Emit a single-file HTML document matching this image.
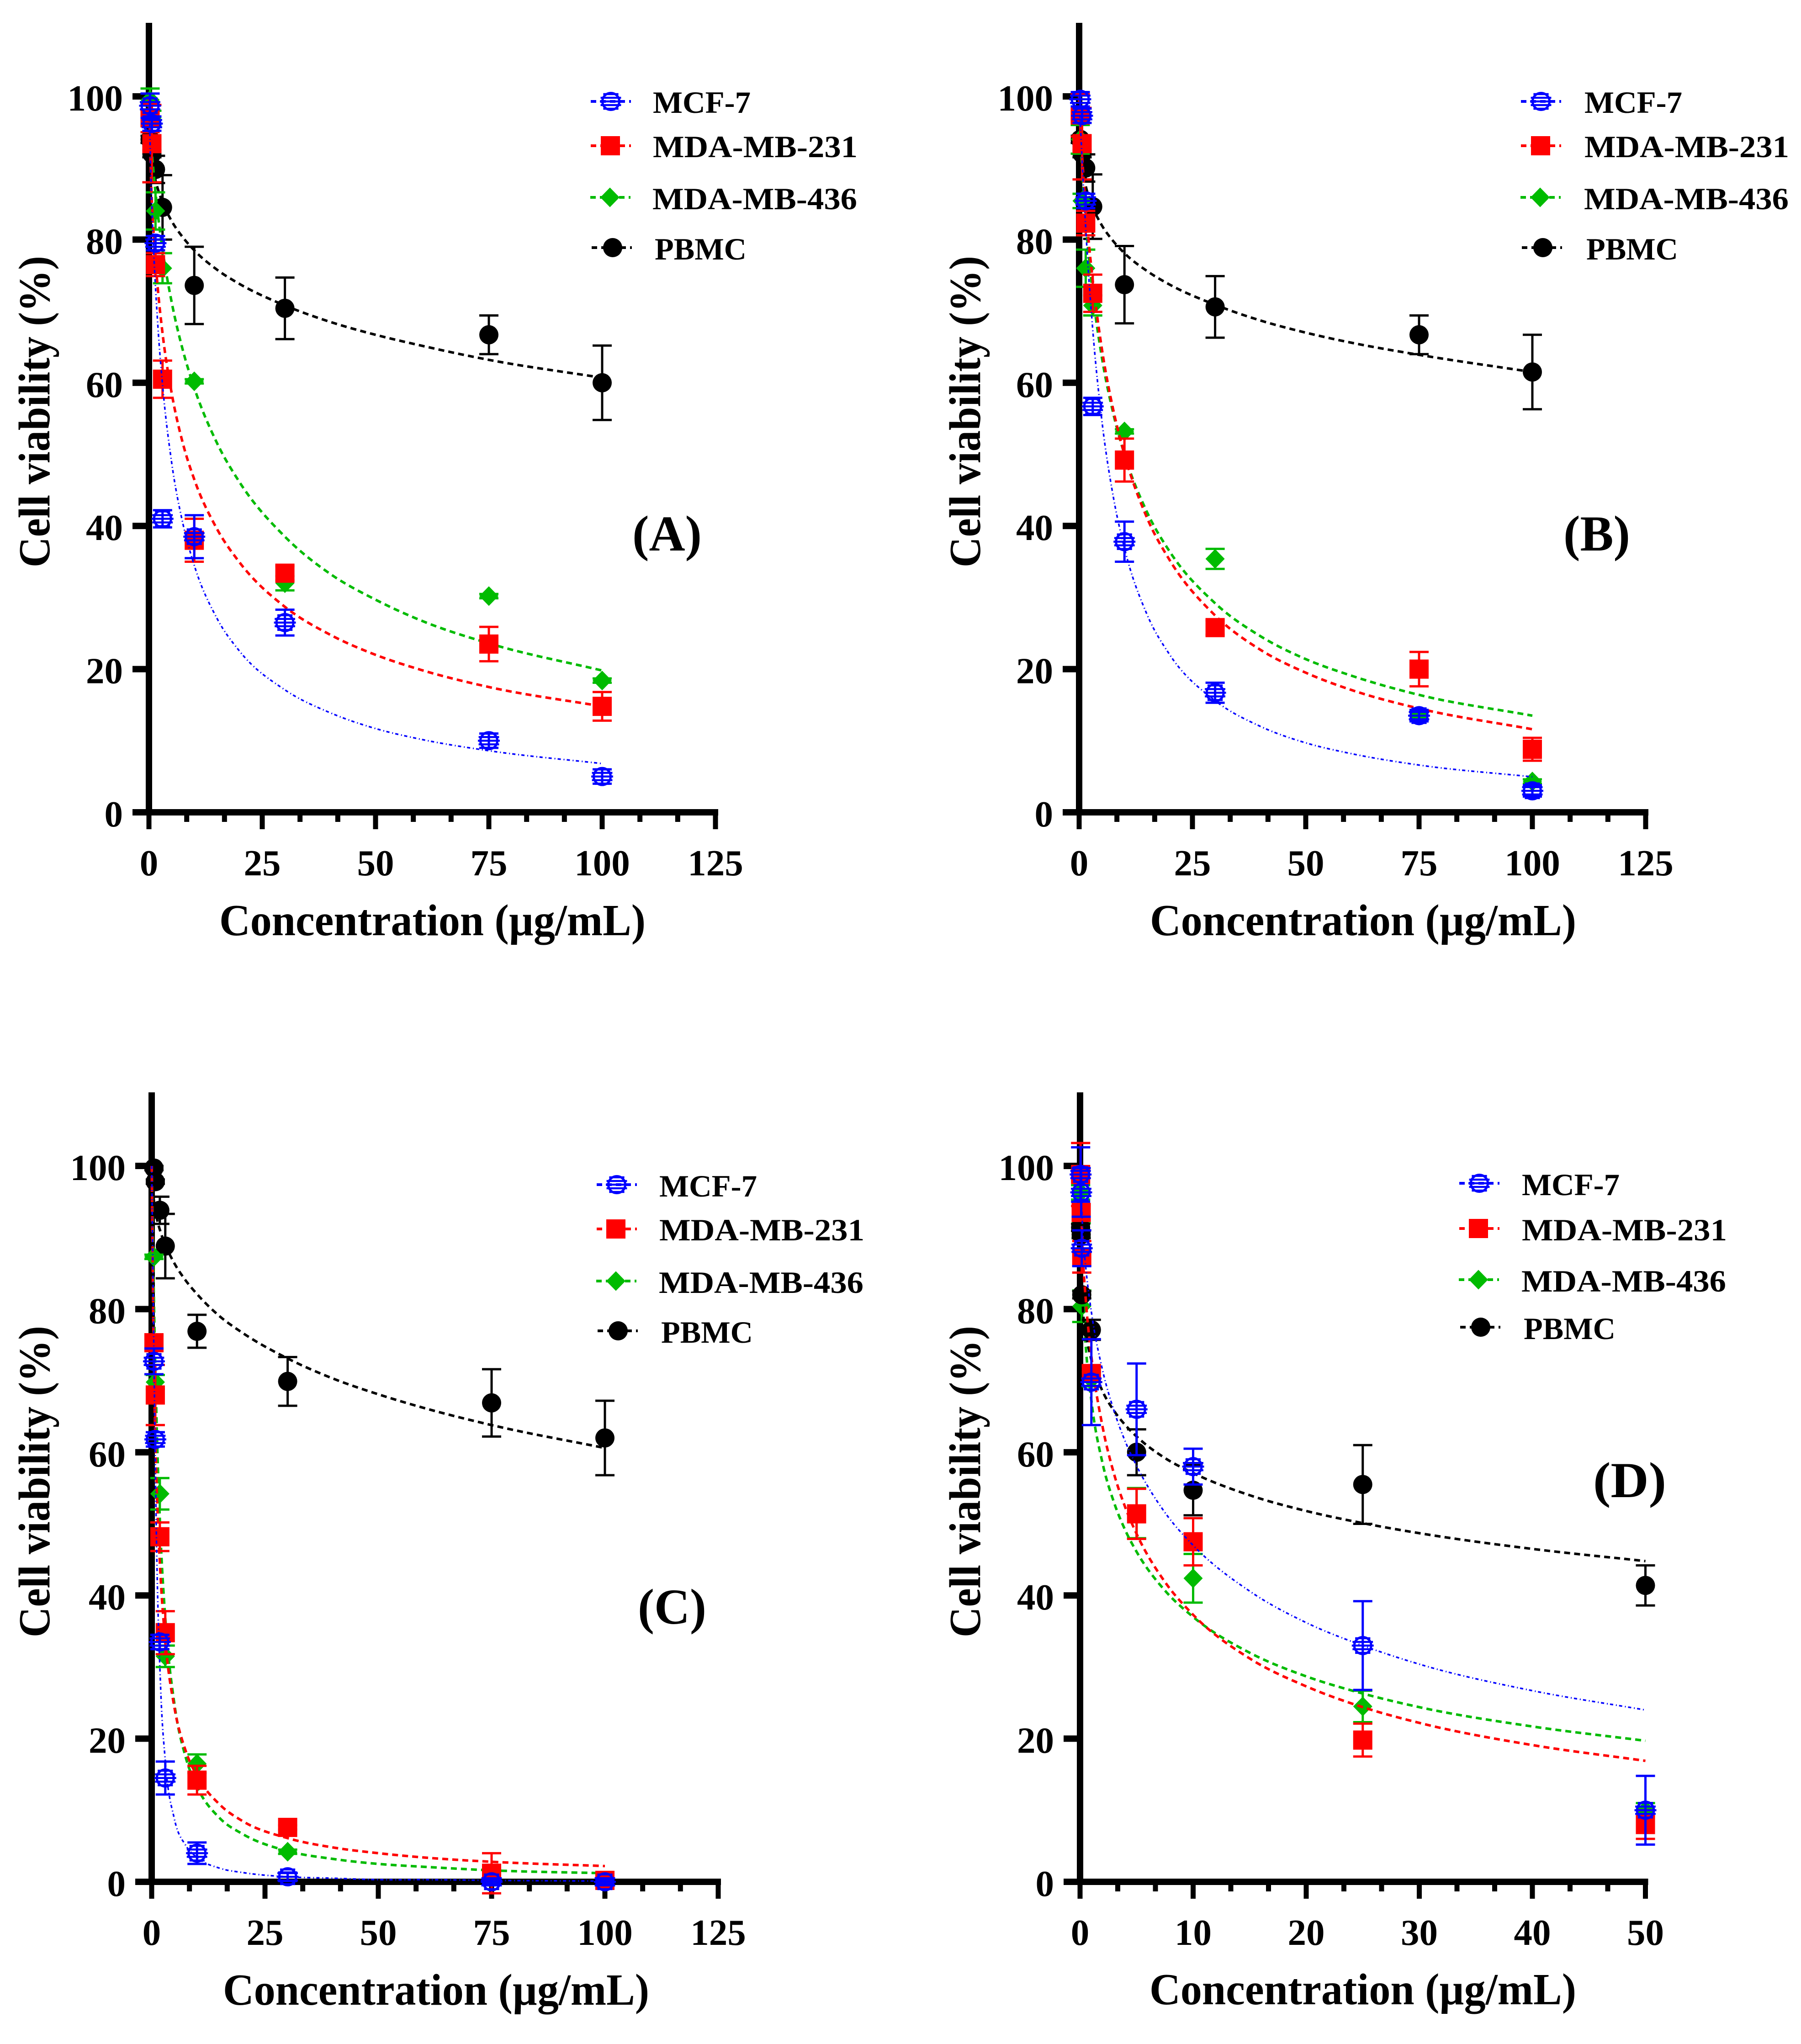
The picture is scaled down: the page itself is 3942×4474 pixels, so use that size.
<!DOCTYPE html>
<html lang="en">
<head>
<meta charset="utf-8">
<title>Cell viability vs concentration</title>
<style>
html,body{margin:0;padding:0;background:#fff}
svg{display:block}
text{font-family:"Liberation Serif",serif;font-weight:bold;fill:#000}
.ax{font-size:97px}
.tk{font-size:81px}
.lg{font-size:68px}
.pl{font-size:110px}
</style>
</head>
<body>
<svg id="chart" xmlns="http://www.w3.org/2000/svg" width="3942" height="4474" viewBox="0 0 3942 4474">
<rect width="3942" height="4474" fill="#fff"/>

<g id="panel-a"></g>
<g id="panel-b"></g>
<g id="panel-c"></g>
<g id="panel-d"></g>

<g>
<text class="ax" text-anchor="middle" transform="translate(108,901) rotate(-90)" textLength="682" lengthAdjust="spacingAndGlyphs">Cell viability (%)</text>
<text class="ax" x="480" y="2047" textLength="933" lengthAdjust="spacingAndGlyphs">Concentration (µg/mL)</text>
<text class="pl" x="1460" y="1205" text-anchor="middle" textLength="152" lengthAdjust="spacingAndGlyphs">(A)</text>
<text class="lg" x="1429" y="247" textLength="214" lengthAdjust="spacingAndGlyphs">MCF-7</text>
<text class="lg" x="1429" y="344" textLength="448" lengthAdjust="spacingAndGlyphs">MDA-MB-231</text>
<text class="lg" x="1428" y="458" textLength="448" lengthAdjust="spacingAndGlyphs">MDA-MB-436</text>
<text class="lg" x="1433" y="568" textLength="201" lengthAdjust="spacingAndGlyphs">PBMC</text>
</g>

<g>
<text class="ax" text-anchor="middle" transform="translate(2145,901) rotate(-90)" textLength="682" lengthAdjust="spacingAndGlyphs">Cell viability (%)</text>
<text class="ax" x="2517" y="2047" textLength="933" lengthAdjust="spacingAndGlyphs">Concentration (µg/mL)</text>
<text class="pl" x="3495" y="1205" text-anchor="middle" textLength="146" lengthAdjust="spacingAndGlyphs">(B)</text>
<text class="lg" x="3468" y="247" textLength="214" lengthAdjust="spacingAndGlyphs">MCF-7</text>
<text class="lg" x="3468" y="344" textLength="448" lengthAdjust="spacingAndGlyphs">MDA-MB-231</text>
<text class="lg" x="3467" y="458" textLength="448" lengthAdjust="spacingAndGlyphs">MDA-MB-436</text>
<text class="lg" x="3472" y="568" textLength="201" lengthAdjust="spacingAndGlyphs">PBMC</text>
</g>

<g>
<text class="ax" text-anchor="middle" transform="translate(108,3243) rotate(-90)" textLength="682" lengthAdjust="spacingAndGlyphs">Cell viability (%)</text>
<text class="ax" x="488" y="4388" textLength="933" lengthAdjust="spacingAndGlyphs">Concentration (µg/mL)</text>
<text class="pl" x="1471" y="3554" text-anchor="middle" textLength="150" lengthAdjust="spacingAndGlyphs">(C)</text>
<text class="lg" x="1443" y="2619" textLength="214" lengthAdjust="spacingAndGlyphs">MCF-7</text>
<text class="lg" x="1443" y="2715" textLength="449" lengthAdjust="spacingAndGlyphs">MDA-MB-231</text>
<text class="lg" x="1442" y="2830" textLength="448" lengthAdjust="spacingAndGlyphs">MDA-MB-436</text>
<text class="lg" x="1447" y="2939" textLength="201" lengthAdjust="spacingAndGlyphs">PBMC</text>
</g>

<g>
<text class="ax" text-anchor="middle" transform="translate(2145,3243) rotate(-90)" textLength="682" lengthAdjust="spacingAndGlyphs">Cell viability (%)</text>
<text class="ax" x="2516" y="4387" textLength="934" lengthAdjust="spacingAndGlyphs">Concentration (µg/mL)</text>
<text class="pl" x="3567" y="3277" text-anchor="middle" textLength="160" lengthAdjust="spacingAndGlyphs">(D)</text>
<text class="lg" x="3331" y="2616" textLength="214" lengthAdjust="spacingAndGlyphs">MCF-7</text>
<text class="lg" x="3331" y="2715" textLength="449" lengthAdjust="spacingAndGlyphs">MDA-MB-231</text>
<text class="lg" x="3330" y="2827" textLength="448" lengthAdjust="spacingAndGlyphs">MDA-MB-436</text>
<text class="lg" x="3335" y="2931" textLength="201" lengthAdjust="spacingAndGlyphs">PBMC</text>
</g>
</svg>

<script>
// ---------- tick labels ----------
const yTicks = [0, 20, 40, 60, 80, 100];
const xTicksMain = [0, 25, 50, 75, 100, 125];
const xTicksD = [0, 10, 20, 30, 40, 50];

// ---------- measured concentrations ----------
const concMain = [0.25, 0.65, 1.45, 3, 10, 30, 75, 100];
const concC = [0.5, 0.8, 1.8, 3, 10, 30, 75, 100];
const concD = [0.05, 0.1, 0.15, 1, 5, 10, 25, 50];
const curveConcMain = [0, 0.5, 1, 2, 3, 5, 7.5, 10, 15, 20, 30, 40, 50, 60, 75, 100];
const curveConcD = [0, 0.25, 0.5, 1, 2, 3, 4, 5, 7.5, 10, 15, 20, 25, 30, 40, 50];

// ---------- panel A ----------
const mcfA = [98.7, 96.2, 79.5, 41, 38.5, 26.5, 10, 5];
const mcfErrA = [1.7, 1, 1, 1.2, 3, 1.8, 1, 1];
const mda231A = [97, 93.4, 76.5, 60.5, 38, 33.4, 23.5, 14.8];
const mda231ErrA = [2, 5.4, 1.6, 2.6, 3, 1, 2.4, 2];
const mda436A = [99.5, 97, 84, 76, 60.2, 32, 30.2, 18.4];
const mda436ErrA = [1.6, 1, 2.6, 2.1, 0.3, 1, 0.3, 0.3];
const pbmcA = [94, 92, 89.8, 84.5, 73.6, 70.4, 66.7, 60];
const pbmcErrA = [0.5, 0.5, 1.9, 4.5, 5.4, 4.3, 2.7, 5.2];
const mcfFitA = [100, 87.3, 79.1, 67.7, 59.7, 48.9, 40.3, 34.5, 27.1, 22.5, 17.1, 13.9, 11.7, 10.2, 8.6, 6.8];
const mda231FitA = [100, 87.6, 81.3, 72.9, 66.9, 58.6, 51.5, 46.5, 39.6, 34.9, 28.7, 24.8, 22, 19.9, 17.5, 14.8];
const mda436FitA = [100, 93.6, 89.6, 83.4, 78.6, 71.3, 64.5, 59.3, 51.6, 46.1, 38.5, 33.3, 29.7, 26.8, 23.6, 19.8];
const pbmcFitA = [100, 91.8, 89.6, 87, 85.2, 82.6, 80.3, 78.5, 75.8, 73.8, 70.8, 68.5, 66.7, 65.2, 63.2, 60.7];

// ---------- panel B ----------
const mcfB = [99.6, 97.3, 85.4, 56.7, 37.8, 16.7, 13.5, 3];
const mcfErrB = [1, 1, 1, 1.2, 2.8, 1.4, 0.8, 0.8];
const mda231B = [97.4, 93.4, 82.3, 72.5, 49.2, 25.8, 20, 8.8];
const mda231ErrB = [3, 5, 1.7, 2.6, 3, 1, 2.4, 1.6];
const mda436B = [94, 85.4, 76, 70.8, 53.2, 35.4, 13.5, 4.3];
const mda436ErrB = [2, 1, 2.6, 1.4, 0.3, 1.4, 0.5, 0.3];
const pbmcB = [94, 92, 90, 84.6, 73.7, 70.6, 66.7, 61.5];
const pbmcErrB = [0.5, 0.5, 1.9, 4.5, 5.4, 4.3, 2.7, 5.2];
const mcfFitB = [100, 93.1, 86.8, 76, 67.4, 54.8, 44.2, 36.9, 27.6, 22, 15.6, 12, 9.7, 8.2, 6.6, 4.95];
const mda231FitB = [100, 93.4, 88.4, 80.5, 74.3, 64.8, 56.3, 50, 41.1, 35.2, 27.5, 22.7, 19.5, 17.1, 14.5, 11.6];
const mda436FitB = [100, 91.8, 86.5, 78.6, 72.5, 63.6, 55.8, 50, 41.9, 36.4, 29.2, 24.6, 21.4, 19.1, 16.4, 13.5];
const pbmcFitB = [100, 91, 88.9, 86.2, 84.5, 82, 79.8, 78.1, 75.6, 73.7, 70.9, 68.7, 67, 65.6, 63.9, 61.5];

// ---------- panel C ----------
const mcfC = [72.7, 61.8, 33.5, 14.5, 4, 0.7, 0, 0];
const mcfErrC = [1.8, 1, 1, 2.3, 1.5, 0.6, 0.3, 0.3];
const mda231C = [75.3, 68, 48.2, 34.8, 14.2, 7.6, 1.2, 0.2];
const mda231ErrC = [1, 4.2, 2, 3, 2, 0.3, 2.8, 0.3];
const mda436C = [87.3, 69.8, 54.2, 31.5, 16.5, 4.2, 0.5, 0];
const mda436ErrC = [0.3, 1, 2.2, 1.5, 1.3, 0.3, 0.3, 0.3];
const pbmcC = [99.7, 97.8, 93.8, 88.8, 76.9, 69.9, 66.9, 62];
const pbmcErrC = [0.3, 0.3, 1.9, 4.5, 2.3, 3.4, 4.7, 5.2];
const mcfFitC = [100, 73.2, 50, 26.8, 16.9, 8.8, 5.1, 3.4, 1.9, 1.3, 0.7, 0.5, 0.3, 0.3, 0.2, 0.1];
const mda231FitC = [100, 71.6, 57.6, 42.3, 33.7, 24.4, 18.3, 14.8, 10.8, 8.5, 6.1, 4.8, 4, 3.4, 2.8, 2.2];
const mda436FitC = [100, 80.9, 66.3, 47.7, 36.8, 24.9, 17.4, 13.3, 8.9, 6.7, 4.3, 3.2, 2.5, 2.1, 1.6, 1.2];
const pbmcFitC = [100, 95, 93.1, 90.7, 89, 86.4, 84, 82.1, 79, 76.7, 73.1, 70.3, 68.1, 66.2, 63.8, 60.6];

// ---------- panel D ----------
const mcfD = [98.8, 96.3, 88.5, 69.8, 66, 58, 33, 10];
const mcfErrD = [3.8, 3.4, 2.5, 6, 6.4, 2.5, 6.2, 4.8];
const mda231D = [98.8, 93.5, 87.3, 71, 51.4, 47.5, 19.8, 8];
const mda231ErrD = [4.4, 1, 2.2, 1, 3.5, 3.3, 2.3, 2];
const mda436D = [96.3, 91, 80.4, 70.2, 51.5, 42.4, 24.5, 10];
const mda436ErrD = [1, 1, 2.2, 1, 3.5, 3.4, 2.2, 1];
const pbmcD = [91.4, 90.4, 82, 77.1, 60, 54.7, 55.5, 41.4];
const pbmcErrD = [0.5, 0.5, 0.5, 1.4, 3.2, 3.5, 5.5, 2.8];
const mcfFitD = [100, 90.5, 85.9, 79.6, 71.4, 65.8, 61.5, 58.1, 51.6, 47, 40.6, 36.2, 33, 30.4, 26.7, 24];
const mda231FitD = [100, 87.4, 81.4, 73.4, 63.5, 57, 52.3, 48.6, 41.9, 37.3, 31.2, 27.3, 24.4, 22.2, 19.1, 16.9];
const mda436FitD = [100, 81.3, 74.9, 67.2, 58.4, 53, 49.1, 46.1, 40.7, 37, 32, 28.7, 26.3, 24.4, 21.7, 19.7];
const pbmcFitD = [100, 80.5, 76.9, 72.9, 68.5, 65.8, 63.8, 62.2, 59.2, 57.1, 54, 51.8, 50.1, 48.7, 46.5, 44.8];

const NS = 'http://www.w3.org/2000/svg';
const colors = { mcf: '#0000ff', mda231: '#ff0000', mda436: '#00bb00', pbmc: '#000000' };
const dashes = { mcf: '7 6 2 5', mda231: '13 9', mda436: '13 9', pbmc: '13 9' };
const widths = { mcf: 3.5, mda231: 5.5, mda436: 5.5, pbmc: 5.5 };
const drawOrder = ['pbmc', 'mda436', 'mda231', 'mcf'];
const drawOrderD = ['mda436', 'pbmc', 'mda231', 'mcf'];

function make(tag, parent) {
  const e = document.createElementNS(NS, tag);
  parent.appendChild(e);
  return e;
}
function set(e, attrs) {
  for (const k in attrs) e.setAttribute(k, attrs[k]);
  return e;
}
function rectMark(parent, x, y, w, h, fill) {
  const r = make('rect', parent);
  set(r, { x: x, y: y, width: w, height: h, fill: fill });
  return r;
}
function drawMarker(parent, series, px, py) {
  const g = make('g', parent);
  
  
  const c = colors[series];
  if (series === 'mda231') {
    rectMark(g, px - 21, py - 21, 42, 42, c);
  } else if (series === 'mda436') {
    const p = make('polygon', g);
    set(p, { points: [px, py - 21.5, px + 21, py, px, py + 21.5, px - 21, py].join(' '), fill: c });
  } else if (series === 'pbmc') {
    const o = make('circle', g);
    set(o, { cx: px, cy: py, r: 21, fill: c });
  } else {
    const o = make('circle', g);
    set(o, { cx: px, cy: py, r: 18.5, fill: 'none', stroke: c, 'stroke-width': 5 });
    for (let dy = -16; dy <= 16; dy += 8) {
      const half = Math.sqrt(441 - dy * dy) + 3;
      rectMark(g, px - half, py + dy - 2.2, 2 * half, 4.4, c);
    }
  }
  return g;
}
function smoothPath(pts) {
  const n = pts.length;
  const m = [];
  for (let i = 0; i < n; i++) {
    if (i === 0) {
      m.push((pts[1][1] - pts[0][1]) / (pts[1][0] - pts[0][0]));
    } else if (i === n - 1) {
      m.push((pts[i][1] - pts[i - 1][1]) / (pts[i][0] - pts[i - 1][0]));
    } else {
      const h0 = pts[i][0] - pts[i - 1][0], h1 = pts[i + 1][0] - pts[i][0];
      const s0 = (pts[i][1] - pts[i - 1][1]) / h0, s1 = (pts[i + 1][1] - pts[i][1]) / h1;
      m.push((s0 * h1 + s1 * h0) / (h0 + h1));
    }
  }
  let d = 'M' + pts[0][0].toFixed(1) + ' ' + pts[0][1].toFixed(1);
  for (let i = 0; i < n - 1; i++) {
    const h = (pts[i + 1][0] - pts[i][0]) / 3;
    d += 'C' + (pts[i][0] + h).toFixed(1) + ' ' + (pts[i][1] + m[i] * h).toFixed(1) + ' ' +
      (pts[i + 1][0] - h).toFixed(1) + ' ' + (pts[i + 1][1] - m[i + 1] * h).toFixed(1) + ' ' +
      pts[i + 1][0].toFixed(1) + ' ' + pts[i + 1][1].toFixed(1);
  }
  return d;
}
function tickLabel(parent, str, x, y, anchor) {
  const t = make('text', parent);
  t.setAttribute('class', 'tk');
  
  
  set(t, { x: x, y: y, 'text-anchor': anchor });
  t.textContent = str;
}
function drawLegendEntry(parent, series, lineX, mx, my) {
  const g = make('g', parent);
  
  
  const l = make('line', g);
  
  
  set(l, { x1: lineX - 44, x2: lineX + 44, y1: my, y2: my, stroke: colors[series], 'stroke-width': 6, 'stroke-dasharray': '12 9' });
  drawMarker(g, series, mx, my);
}
function drawPanel(id, o) {
  const root = document.getElementById(id);
  const sx = v => o.x0 + v * o.xScale;
  const sy = v => o.y0 - v * 15.67;
  const axisG = make('g', root);
  
  

  // y axis
  const yLine = rectMark(axisG, o.x0 - 7, o.y0 - 1728, 14, 1728, '#000');
  
  
  yTicks.forEach(v => {
    if (v > 0) {
      const m = rectMark(axisG, o.x0 - 36, sy(v) - 7, 36, 14, '#000');
      
      
    }
    tickLabel(axisG, String(v), o.x0 - 57, sy(v) + 31, 'end');
  });

  // x axis
  const last = o.xTicks[o.xTicks.length - 1];
  const xLine = rectMark(axisG, o.x0 - 36, o.y0 - 7, sx(last) + 6 - (o.x0 - 36), 14, '#000');
  
  
  o.xTicks.forEach((v, i) => {
    const m = rectMark(axisG, sx(v) - 5.5, o.y0, 11, 37, '#000');
    
    
    tickLabel(axisG, String(v), sx(v), o.y0 + 138, 'middle');
    if (i < o.xTicks.length - 1) {
      const step = (o.xTicks[i + 1] - v) / 3;
      for (let k = 1; k < 3; k++) {
        const n = rectMark(axisG, sx(v + k * step) - 5.5, o.y0, 11, 21, '#000');
        
        
      }
    }
  });

  // series
  o.order.forEach(s => {
    const g = make('g', root);
    
    
    const d = o.data[s];
    const curve = make('path', g);
    
    
    set(curve, {
      d: smoothPath(o.curveX.map((x, i) => [sx(x), sy(d.fit[i])])),
      fill: 'none', stroke: colors[s], 'stroke-width': widths[s], 'stroke-dasharray': dashes[s]
    });
    o.conc.forEach((x, i) => {
      const px = sx(x), py = sy(d.y[i]), up = sy(d.y[i] + d.err[i]), dn = sy(d.y[i] - d.err[i]);
      const bar = make('path', g);
      
      
      set(bar, {
        d: 'M' + px + ' ' + up + 'V' + dn + 'M' + (px - 21) + ' ' + up + 'H' + (px + 21) + 'M' + (px - 21) + ' ' + dn + 'H' + (px + 21),
        fill: 'none', stroke: colors[s], 'stroke-width': 5
      });
      drawMarker(g, s, px, py);
    });
  });

  // legend
  const lg = make('g', root);
  
  
  o.legend(lg);
}

drawPanel('panel-a', {
  x0: 326, y0: 1778, xScale: 9.92, xTicks: xTicksMain, conc: concMain, curveX: curveConcMain, order: drawOrder,
  data: {
    mcf: { y: mcfA, err: mcfErrA, fit: mcfFitA },
    mda231: { y: mda231A, err: mda231ErrA, fit: mda231FitA },
    mda436: { y: mda436A, err: mda436ErrA, fit: mda436FitA },
    pbmc: { y: pbmcA, err: pbmcErrA, fit: pbmcFitA }
  },
  legend: g => {
    drawLegendEntry(g, 'mcf', 1337, 1337, 222);
    drawLegendEntry(g, 'mda231', 1337, 1336, 319);
    drawLegendEntry(g, 'mda436', 1336, 1335, 432);
    drawLegendEntry(g, 'pbmc', 1339, 1341, 542);
  }
});
drawPanel('panel-b', {
  x0: 2362, y0: 1778, xScale: 9.92, xTicks: xTicksMain, conc: concMain, curveX: curveConcMain, order: drawOrder,
  data: {
    mcf: { y: mcfB, err: mcfErrB, fit: mcfFitB },
    mda231: { y: mda231B, err: mda231ErrB, fit: mda231FitB },
    mda436: { y: mda436B, err: mda436ErrB, fit: mda436FitB },
    pbmc: { y: pbmcB, err: pbmcErrB, fit: pbmcFitB }
  },
  legend: g => {
    drawLegendEntry(g, 'mcf', 3373, 3373, 222);
    drawLegendEntry(g, 'mda231', 3373, 3372, 319);
    drawLegendEntry(g, 'mda436', 3372, 3371, 432);
    drawLegendEntry(g, 'pbmc', 3375, 3377, 542);
  }
});
drawPanel('panel-c', {
  x0: 332, y0: 4119, xScale: 9.92, xTicks: xTicksMain, conc: concC, curveX: curveConcMain, order: drawOrder,
  data: {
    mcf: { y: mcfC, err: mcfErrC, fit: mcfFitC },
    mda231: { y: mda231C, err: mda231ErrC, fit: mda231FitC },
    mda436: { y: mda436C, err: mda436ErrC, fit: mda436FitC },
    pbmc: { y: pbmcC, err: pbmcErrC, fit: pbmcFitC }
  },
  legend: g => {
    drawLegendEntry(g, 'mcf', 1350, 1350, 2593);
    drawLegendEntry(g, 'mda231', 1350, 1348, 2690);
    drawLegendEntry(g, 'mda436', 1349, 1348, 2804);
    drawLegendEntry(g, 'pbmc', 1352, 1353, 2913);
  }
});
drawPanel('panel-d', {
  x0: 2364, y0: 4119, xScale: 24.75, xTicks: xTicksD, conc: concD, curveX: curveConcD, order: drawOrderD,
  data: {
    mcf: { y: mcfD, err: mcfErrD, fit: mcfFitD },
    mda231: { y: mda231D, err: mda231ErrD, fit: mda231FitD },
    mda436: { y: mda436D, err: mda436ErrD, fit: mda436FitD },
    pbmc: { y: pbmcD, err: pbmcErrD, fit: pbmcFitD }
  },
  legend: g => {
    drawLegendEntry(g, 'mcf', 3238, 3238, 2590);
    drawLegendEntry(g, 'mda231', 3238, 3236, 2689);
    drawLegendEntry(g, 'mda436', 3237, 3236, 2801);
    drawLegendEntry(g, 'pbmc', 3240, 3241, 2905);
  }
});
</script>
</body>
</html>
